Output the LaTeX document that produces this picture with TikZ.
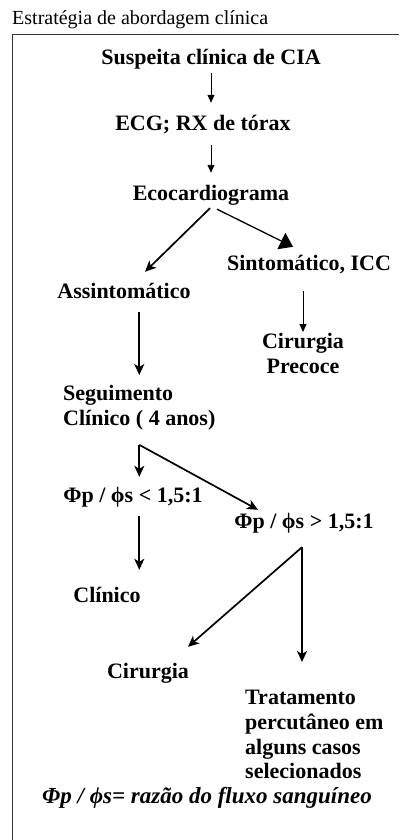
\documentclass[tikz,border=0pt]{standalone}
\usepackage{fontspec}
\setmainfont{Liberation Serif}
\usetikzlibrary{arrows.meta,calc}

\tikzset{
  stepbox/.style={font=\bfseries\fontsize{22}{25}\selectfont, inner sep=0pt, text height=15pt, text depth=5pt},
  multibox/.style={font=\bfseries\fontsize{22}{25}\selectfont, inner sep=0pt},
  thinarrow/.style={line width=0.9pt, -{Triangle[length=8pt,width=7pt]}},
  bigarrow/.style={line width=1.7pt, -{Stealth[length=11pt,width=10pt,inset=3pt]}},
}

\begin{document}
\begin{tikzpicture}[x=1pt,y=-1pt]
    \useasboundingbox (0,0) rectangle (399,840);

    \draw[line width=1pt, black!80] (12,840) -- (12,35) -- (399,35);
    \node[anchor=base west, inner sep=0pt, font=\fontsize{20}{24}\selectfont] (title) at (12,25) {Estratégia de abordagem clínica};

    \node[stepbox] (sus) at (211,60) {Suspeita clínica de CIA};
    \node[stepbox] (ecg) at (203,126) {ECG; RX de tórax};
    \node[stepbox] (eco) at (211,195) {Ecocardiograma};
    \node[stepbox] (sin) at (309,265) {Sintomático, ICC};
    \node[stepbox] (asn) at (124,293) {Assintomático};
    \node[multibox, align=center, anchor=north] (cir1) at (303,333.5) {Cirurgia\\Precoce};
    \node[multibox, align=left, anchor=north west] (seg) at (63,385.5) {Seguimento\\Clínico ( 4 anos)};
    \node[stepbox] (lt) at (133,497) {Φp / ϕs < 1,5:1};
    \node[stepbox] (gt) at (304,523) {Φp / ϕs > 1,5:1};
    \node[stepbox] (cli) at (107,597) {Clínico};
    \node[stepbox] (cir2) at (148,673) {Cirurgia};
    \node[multibox, font=\bfseries\fontsize{22}{24.7}\selectfont, align=left, anchor=north west] (trat) at (245,690) {Tratamento\\percutâneo em\\alguns casos\\selecionados};
    \node[stepbox, font=\bfseries\itshape\fontsize{23}{25}\selectfont] (note) at (207,798) {Φp / ϕs= razão do fluxo sanguíneo};

    \coordinate (fk1) at ($(seg.south)+(0,14)$);
    \coordinate (fk2) at ($(gt.south)+(-2,14)$);

    \draw[thinarrow, shorten <=3pt, shorten >=13pt] (sus.south) -- (sus.south |- ecg.north);
    \draw[thinarrow, shorten <=9pt, shorten >=12pt] (eco.north |- ecg.south) -- (eco.north);
    \draw[bigarrow] ($(eco.south)+(-1,3)$) -- ($(asn.north)+(21,-11)$);
    \draw[line width=1.3pt, -{Triangle[length=13pt,width=18pt]}] ($(eco.south)+(6,4)$) -- ($(sin.north)+(-16,-8)$);
    \draw[bigarrow, shorten <=9pt, shorten >=10.5pt] (seg.north |- asn.south) -- (seg.north);
    \draw[thinarrow, shorten <=16pt, shorten >=1.5pt] (cir1.north |- sin.south) -- (cir1.north);
    \draw[bigarrow, shorten >=10pt] (fk1) -- (fk1 |- lt.north);
    \draw[bigarrow] (fk1) -- ($(gt.north)+(-46,-3)$);
    \draw[bigarrow, shorten <=9pt, shorten >=17pt] (fk1 |- lt.south) -- (fk1 |- cli.north);
    \draw[bigarrow] (fk2) -- ($(cir2.north)+(40,-16)$);
    \draw[bigarrow, shorten >=28pt] (fk2) -- (fk2 |- trat.north);

\end{tikzpicture}
\end{document}
